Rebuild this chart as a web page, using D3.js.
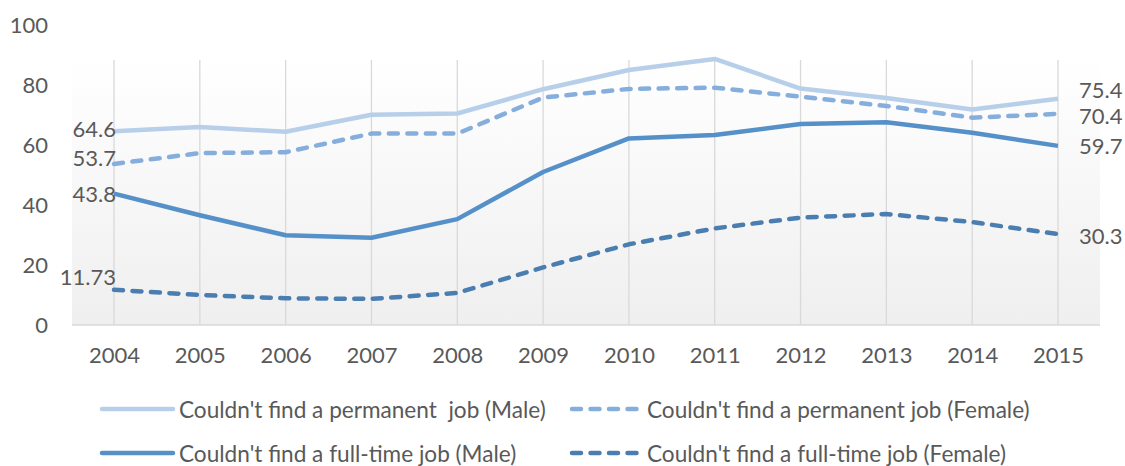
<!DOCTYPE html>
<html><head><meta charset="utf-8">
<script src="https://cdn.jsdelivr.net/npm/d3@7"></script>
<style>body{margin:0;background:#fff;} text{font-family:Lato, "Open Sans", sans-serif; fill:#595959; white-space:pre;}</style>
</head><body>
<svg id="chart" width="1125" height="466"></svg>
<script>
const years = ["2004","2005","2006","2007","2008","2009","2010","2011","2012","2013","2014","2015"];
const permMale   = [64.6, 66.0, 64.4, 70.1, 70.5, 78.6, 85.0, 88.7, 78.8, 75.7, 71.8, 75.4];
const permFemale = [53.7, 57.3, 57.6, 63.8, 63.8, 75.8, 78.7, 79.1, 76.1, 73.0, 69.1, 70.4];
const fullMale   = [43.8, 36.6, 29.9, 29.1, 35.3, 51.0, 62.2, 63.3, 67.0, 67.6, 64.1, 59.7];
const fullFemale = [11.73, 10.0, 8.9, 8.7, 10.7, 19.2, 26.9, 32.2, 35.8, 37.0, 34.3, 30.3];
const yTicks = [0, 20, 40, 60, 80, 100];
const seriesNames = ["Couldn't find a permanent  job (Male)", "Couldn't find a permanent job (Female)",
                     "Couldn't find a full-time job (Male)", "Couldn't find a full-time job (Female)"];
const firstLabels = ["64.6", "53.7", "43.8", "11.73"];
const lastLabels  = ["75.4", "70.4", "59.7", "30.3"];

const series = [
  {name: seriesNames[0], values: permMale,   color: "#b8cfea", dash: null,  lf: firstLabels[0], ll: lastLabels[0], dyF: -3, dyL: -9},
  {name: seriesNames[1], values: permFemale, color: "#85aedd", dash: "9,9.5", lf: firstLabels[1], ll: lastLabels[1], dyF: -6, dyL: 2},
  {name: seriesNames[2], values: fullMale,   color: "#5590c9", dash: null,  lf: firstLabels[2], ll: lastLabels[2], dyF: 0, dyL: 0},
  {name: seriesNames[3], values: fullFemale, color: "#4a7db0", dash: "9,9.5", lf: firstLabels[3], ll: lastLabels[3], dyF: -13, dyL: 1}
];

const FS = 22;
const svg = d3.select("#chart");
const plotL = 72, plotR = 1100;
const x = d3.scalePoint().domain(years).range([114, 1058]);
const y = d3.scaleLinear().domain([0, 100]).range([325, 25]);

const defs = svg.append("defs");
const grad = defs.append("linearGradient").attr("id","bg").attr("x1",0).attr("y1",0).attr("x2",0).attr("y2",1);
grad.append("stop").attr("offset","0%").attr("stop-color","#ffffff");
grad.append("stop").attr("offset","100%").attr("stop-color","#efefef");
svg.append("rect").attr("x", plotL).attr("y", 60).attr("width", plotR - plotL).attr("height", 325 - 60).attr("fill", "url(#bg)");

// vertical gridlines
svg.append("g").selectAll("line").data(years).join("line")
  .attr("x1", d => x(d)).attr("x2", d => x(d)).attr("y1", y(100) + 35).attr("y2", y(0))
  .attr("stroke", "#d9d9d9").attr("stroke-width", 1.3);

// x axis
const xAxis = svg.append("g").attr("transform", `translate(0,${y(0)})`)
  .call(d3.axisBottom(x).tickSize(0).tickPadding(22));
xAxis.select(".domain").attr("d", `M${plotL},0H${plotR}`).attr("stroke", "#d9d9d9").attr("stroke-width", 1.5);
xAxis.selectAll("text").attr("font-size", FS).style("font-family", "Lato").attr("fill", "#595959");

// y axis (labels only)
const yAxis = svg.append("g").attr("transform", `translate(48,0)`)
  .call(d3.axisLeft(y).tickValues(yTicks).tickSize(0).tickPadding(0));
yAxis.select(".domain").remove();
yAxis.selectAll("text").attr("font-size", FS).style("font-family", "Lato").attr("fill", "#595959");

const line = d3.line().x((d, i) => x(years[i])).y(d => y(d));
series.forEach(s => {
  svg.append("path").datum(s.values).attr("d", line)
    .attr("fill", "none").attr("stroke", s.color).attr("stroke-width", 4.5)
    .attr("stroke-linecap", s.dash ? "round" : "butt").attr("stroke-linejoin", "round")
    .attr("stroke-dasharray", s.dash);
  svg.append("text").attr("x", x(years[0]) + 2).attr("y", y(s.values[0]) + s.dyF)
    .attr("text-anchor", "end").attr("dominant-baseline", "central").attr("font-size", FS).text(s.lf);
  svg.append("text").attr("x", x(years[years.length-1]) + 21).attr("y", y(s.values[s.values.length-1]) + s.dyL)
    .attr("text-anchor", "start").attr("dominant-baseline", "central").attr("font-size", FS).text(s.ll);
});

// legend
const legPos = [[102, 409], [570, 409], [102, 453], [570, 453]];
series.forEach((s, i) => {
  const [lx, ly] = legPos[i];
  const g = svg.append("g");
  g.append("line").attr("x1", lx + (s.dash ? 2 : 0)).attr("x2", lx + 71 - (s.dash ? 2 : 0)).attr("y1", ly).attr("y2", ly)
    .attr("stroke", s.color).attr("stroke-width", 4.5)
    .attr("stroke-linecap", "round").attr("stroke-dasharray", s.dash ? "9,9.5" : null);
  g.append("text").attr("x", lx + 77).attr("y", ly).attr("dominant-baseline", "central")
    .attr("font-size", 22.6).text(s.name);
});
</script>
</body></html>
